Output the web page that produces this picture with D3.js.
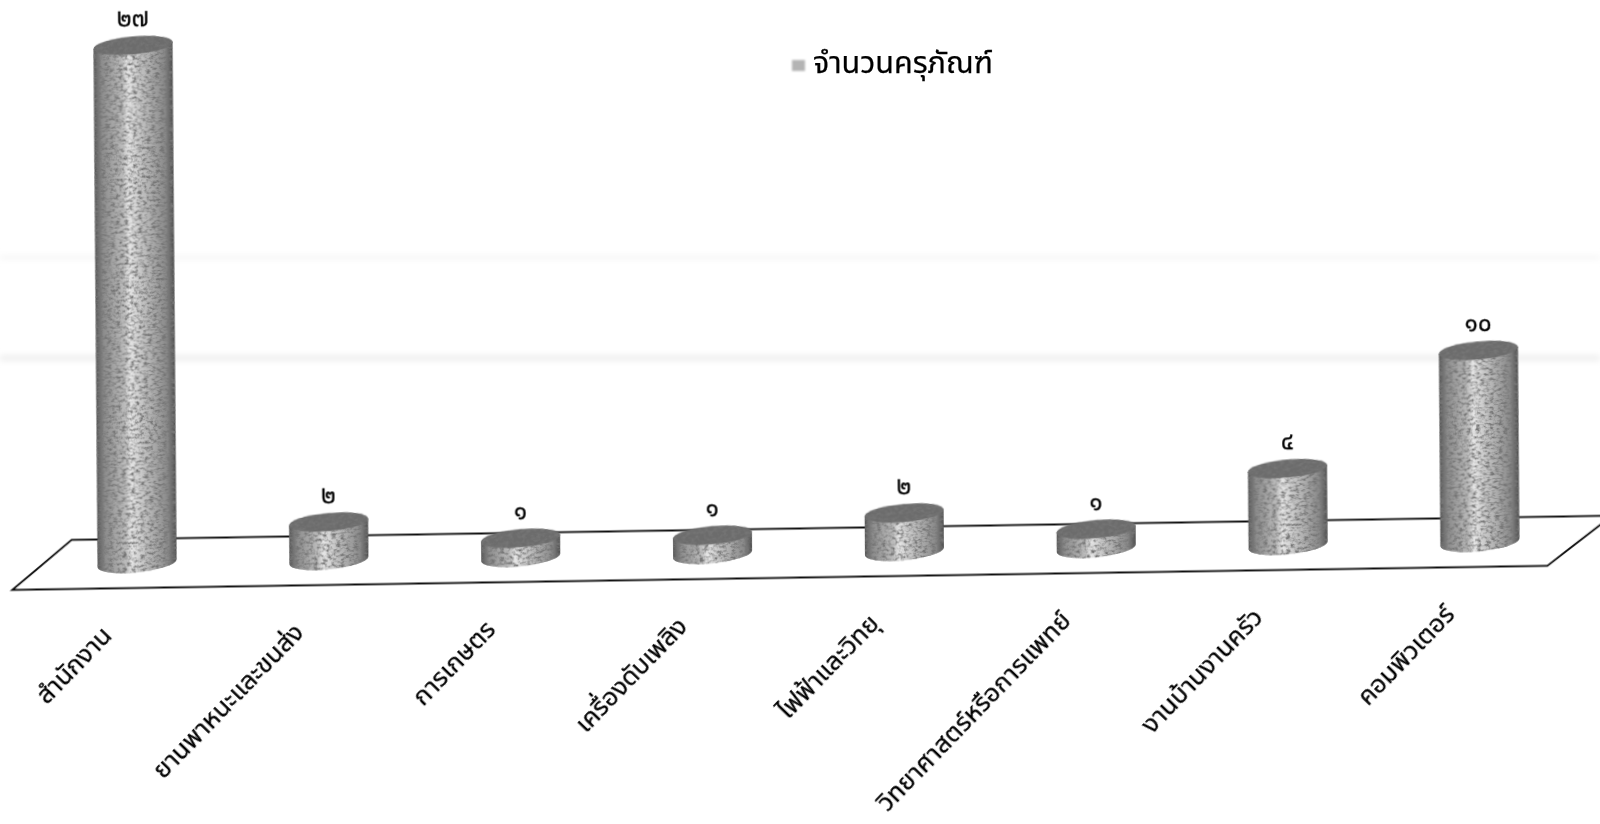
<!DOCTYPE html>
<html>
<head>
<meta charset="utf-8">
<script src="https://cdn.jsdelivr.net/npm/d3@7"></script>
<style>
  html, body { margin: 0; padding: 0; background: #fff; }
  svg { display: block; }
  text { font-family: Tahoma, "Noto Sans", "Noto Sans Thai", "DejaVu Sans", sans-serif; fill: #000; stroke: #000; stroke-width: 0.25; }
</style>
</head>
<body>
<script>
let width = 1600,
  height = 824,
  baseY = 553,
  cylRx = 39.5,
  cylRy = 9,
  lidTilt = 3;

let categories = ['สำนักงาน', 'ยานพาหนะและขนส่ง', 'การเกษตร', 'เครื่องดับเพลิง', 'ไฟฟ้าและวิทยุ', 'วิทยาศาสตร์หรือการแพทย์', 'งานบ้านงานครัว', 'คอมพิวเตอร์']
let values = [27, 2, 1, 1, 2, 1, 4, 10]
let valueLabels = ['๒๗', '๒', '๑', '๑', '๒', '๑', '๔', '๑๐']
let legendLabel = 'จำนวนครุภัณฑ์'

let x = d3.scalePoint().domain(categories).range([137, 1480])
let h = d3.scaleLinear().domain([0, 27]).range([0, 518])

let svg = d3.select('body').append('svg')
  .attr('width', width)
  .attr('height', height)

let defs = svg.append('defs')

let grad = defs.append('linearGradient').attr('id', 'bodyGrad')
let stops = [[0, '#565656'], [0.1, '#8c8c8c'], [0.36, '#bcbcbc'], [0.43, '#e6e6e6'], [0.58, '#c6c6c6'], [0.9, '#888888'], [1, '#4c4c4c']]
stops.forEach(s => grad.append('stop').attr('offset', s[0]).attr('stop-color', s[1]))

// speckle from the scanned print
function addNoise(id, seed, strength) {
  let f = defs.append('filter').attr('id', id)
    .attr('x', '-5%').attr('y', '-5%').attr('width', '110%').attr('height', '110%')
  f.append('feTurbulence').attr('type', 'fractalNoise')
    .attr('baseFrequency', '0.22 0.38').attr('numOctaves', 3).attr('seed', seed).attr('result', 'n')
  f.append('feColorMatrix').attr('in', 'n').attr('type', 'matrix')
    .attr('values', `0 0 0 0 0.18  0 0 0 0 0.18  0 0 0 0 0.18  ${strength} 0 0 0 ${-strength * 0.4}`)
    .attr('result', 'speck')
  f.append('feComposite').attr('in', 'speck').attr('in2', 'SourceGraphic').attr('operator', 'in').attr('result', 'clipped')
  let m = f.append('feMerge')
  m.append('feMergeNode').attr('in', 'SourceGraphic')
  m.append('feMergeNode').attr('in', 'clipped')
}
addNoise('noiseBody', 4, 2.8)
addNoise('noiseLid', 9, 3)

defs.append('filter').attr('id', 'scan').append('feGaussianBlur').attr('stdDeviation', 0.7)
defs.append('filter').attr('id', 'iconBlur').append('feGaussianBlur').attr('stdDeviation', 1.3)
defs.append('filter').attr('id', 'streak')
  .attr('x', '-5%').attr('y', '-500%').attr('width', '110%').attr('height', '1100%')
  .append('feGaussianBlur').attr('stdDeviation', 3)

// faint scanner bands across the page
let bands = svg.append('g').attr('filter', 'url(#streak)')
bands.append('rect').attr('x', 0).attr('y', 356).attr('width', width).attr('height', 4).attr('fill', '#e6e6e6')
bands.append('rect').attr('x', 0).attr('y', 256).attr('width', width).attr('height', 3).attr('fill', '#f2f2f2')

let chart = svg.append('g')
  .attr('class', 'chart')
  .attr('transform', `rotate(-0.9,800,${baseY})`)

// floor of the 3d chart
let floorFront = baseY + 24.6,
  floorBack = baseY - 24.4,
  floor = d3.line()
chart.append('path')
  .attr('d', floor([[12, floorFront], [1547, floorFront], [1612, floorBack], [72, floorBack]]) + 'Z')
  .attr('fill', '#fff')
  .attr('stroke', '#111')
  .attr('stroke-width', 2)
  .attr('filter', 'url(#scan)')

let cyl = chart.selectAll('.cyl')
  .data(categories.map((c, i) => ({ name: c, value: values[i], label: valueLabels[i] })))
  .enter().append('g')
  .attr('class', 'cyl')
  .attr('filter', 'url(#scan)')
  .attr('transform', `translate(0,${baseY}) skewX(-0.45) translate(0,${-baseY})`)

cyl.append('path')
  .attr('d', d => {
    let cx = x(d.name), top = baseY - h(d.value)
    return `M${cx - cylRx},${top + lidTilt}` +
      `L${cx - cylRx},${baseY + lidTilt}` +
      `A${cylRx},${cylRy} -5 0 0 ${cx + cylRx},${baseY - lidTilt}` +
      `L${cx + cylRx},${top - lidTilt}Z`
  })
  .attr('fill', 'url(#bodyGrad)')
  .attr('filter', 'url(#noiseBody)')

cyl.append('ellipse')
  .attr('cx', d => x(d.name))
  .attr('cy', d => baseY - h(d.value))
  .attr('rx', cylRx + 0.2)
  .attr('ry', cylRy)
  .attr('transform', d => `rotate(-4.3,${x(d.name)},${baseY - h(d.value)})`)
  .attr('fill', '#6c6c6c')
  .attr('filter', 'url(#noiseLid)')

cyl.append('text')
  .attr('x', d => x(d.name))
  .attr('y', d => baseY - h(d.value) - 19)
  .attr('text-anchor', 'middle')
  .attr('font-size', 24)
  .text(d => d.label)

chart.selectAll('.cat')
  .data(categories)
  .enter().append('text')
  .attr('class', 'cat')
  .attr('text-anchor', 'end')
  .attr('font-size', 25.5)
  .attr('filter', 'url(#scan)')
  .attr('transform', d => `translate(${x(d) - 25},${baseY + 73}) rotate(-45)`)
  .text(d => d)

// legend
let legend = svg.append('g')
legend.append('rect')
  .attr('x', 792).attr('y', 60).attr('width', 13).attr('height', 11)
  .attr('fill', '#b4b4b4').attr('filter', 'url(#iconBlur)')
legend.append('text')
  .attr('x', 813).attr('y', 73)
  .attr('font-size', 30.5)
  .attr('filter', 'url(#scan)')
  .text(legendLabel)
</script>
</body>
</html>
